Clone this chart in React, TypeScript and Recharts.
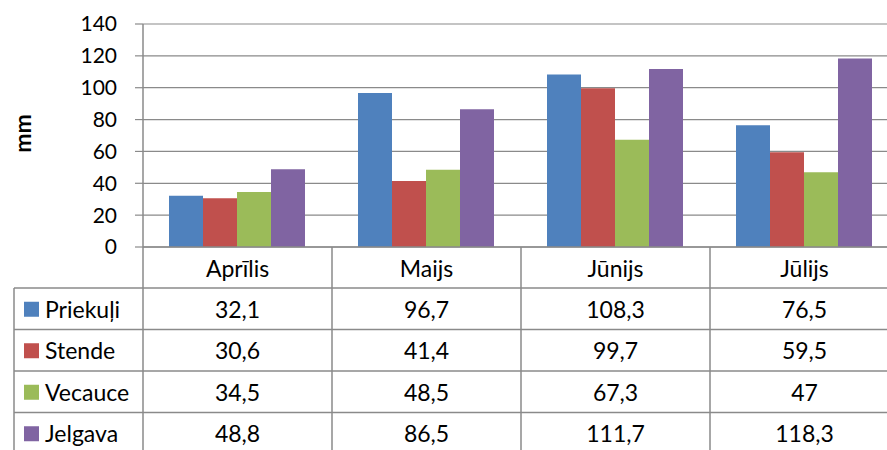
import React from "react";
import { BarChart, Bar, XAxis, YAxis, CartesianGrid, Label } from "recharts";

const months = ["Aprīlis", "Maijs", "Jūnijs", "Jūlijs"];
const priekuli = [32.1, 96.7, 108.3, 76.5];
const stende = [30.6, 41.4, 99.7, 59.5];
const vecauce = [34.5, 48.5, 67.3, 47];
const jelgava = [48.8, 86.5, 111.7, 118.3];
const yTicks = [0, 20, 40, 60, 80, 100, 120, 140];

const series = [
  { key: "priekuli", name: "Priekuļi", color: "#4F81BD", values: priekuli },
  { key: "stende", name: "Stende", color: "#C0504D", values: stende },
  { key: "vecauce", name: "Vecauce", color: "#9BBB59", values: vecauce },
  { key: "jelgava", name: "Jelgava", color: "#8064A2", values: jelgava },
];

const data = months.map((m, i) => {
  const row: Record<string, any> = { month: m };
  series.forEach((s) => (row[s.key] = s.values[i]));
  return row;
});

const CHART_W = 899;
const CHART_H = 450;
const Y_AXIS_W = 143;
const BAND = (CHART_W - Y_AXIS_W) / months.length;
const HEADER_H = 41;
const ROW_H = 41.5;
const LEGEND_LEFT = 14;
const LINE = "#8a8a8a";
const FONT = "Lato, 'Open Sans', sans-serif";
const TABLE_FS = 23;

const fmt = (v: number) => String(v).replace(".", ",");

// draws one column of the data table under each category
const TableTick = (props: any) => {
  const { x, y, payload, index } = props;
  const left = x - BAND / 2;
  const right = x + BAND / 2;
  const bottom = y + HEADER_H + ROW_H * series.length + 10;
  return (
    <g>
      <line x1={left} x2={left} y1={y} y2={bottom} stroke={LINE} strokeWidth={1.5} />
      {index === months.length - 1 && (
        <line x1={right} x2={right} y1={y} y2={bottom} stroke={LINE} strokeWidth={1.5} />
      )}
      <text
        x={x}
        y={y + HEADER_H / 2}
        textAnchor="middle"
        dominantBaseline="central"
        fontSize={TABLE_FS}
        fontFamily={FONT}
        fill="#000"
      >
        {payload.value}
      </text>
      {series.map((s, r) => {
        const top = y + HEADER_H + r * ROW_H;
        return (
          <g key={s.key}>
            <line x1={left} x2={right} y1={top} y2={top} stroke={LINE} strokeWidth={1.5} />
            <text
              x={x}
              y={top + ROW_H / 2}
              textAnchor="middle"
              dominantBaseline="central"
              fontSize={TABLE_FS}
              fontFamily={FONT}
              fill="#000"
            >
              {fmt(s.values[index])}
            </text>
            {index === 0 && (
              <g>
                <line x1={LEGEND_LEFT} x2={left} y1={top} y2={top} stroke={LINE} strokeWidth={1.5} />
                <rect x={LEGEND_LEFT + 10} y={top + ROW_H / 2 - 7} width={15} height={15} fill={s.color} />
                <text
                  x={LEGEND_LEFT + 31}
                  y={top + ROW_H / 2}
                  dominantBaseline="central"
                  fontSize={TABLE_FS}
                  fontFamily={FONT}
                  fill="#000"
                >
                  {s.name}
                </text>
              </g>
            )}
          </g>
        );
      })}
      {index === 0 && (
        <line
          x1={LEGEND_LEFT}
          x2={LEGEND_LEFT}
          y1={y + HEADER_H}
          y2={bottom}
          stroke={LINE}
          strokeWidth={1.5}
        />
      )}
    </g>
  );
};

export default function App() {
  return (
    <div
      style={{
        position: "fixed",
        left: 0,
        top: 0,
        width: 887,
        height: 450,
        overflow: "hidden",
        background: "#fff",
        fontFamily: FONT,
      }}
    >
      <BarChart
        width={CHART_W}
        height={CHART_H}
        data={data}
        margin={{ top: 24, right: 0, bottom: 0, left: 0 }}
        barCategoryGap={26}
        barGap={0}
      >
        <CartesianGrid vertical={false} stroke={LINE} strokeWidth={1.2} />
        <XAxis
          dataKey="month"
          height={CHART_H - 247}
          interval={0}
          tickLine={false}
          tickSize={0}
          tickMargin={0}
          axisLine={{ stroke: LINE, strokeWidth: 1.5 }}
          tick={<TableTick />}
        />
        <YAxis
          width={Y_AXIS_W}
          domain={[0, 140]}
          ticks={yTicks}
          interval={0}
          tickSize={8}
          tickMargin={18}
          tickLine={{ stroke: LINE, strokeWidth: 1.2 }}
          axisLine={{ stroke: LINE, strokeWidth: 1.5 }}
          tick={{ fill: "#000", fontSize: 21, fontFamily: FONT }}
        >
          <Label
            content={({ viewBox }: any) => {
              const cx = 22;
              const cy = viewBox.y + viewBox.height / 2 - 2;
              return (
                <text
                  x={cx}
                  y={cy}
                  transform={`rotate(-90, ${cx}, ${cy})`}
                  textAnchor="middle"
                  dominantBaseline="central"
                  fontSize={23}
                  fontWeight="bold"
                  fontFamily={FONT}
                  fill="#000"
                >
                  mm
                </text>
              );
            }}
          />
        </YAxis>
        {series.map((s) => (
          <Bar key={s.key} dataKey={s.key} name={s.name} fill={s.color} isAnimationActive={false} />
        ))}
      </BarChart>
    </div>
  );
}
